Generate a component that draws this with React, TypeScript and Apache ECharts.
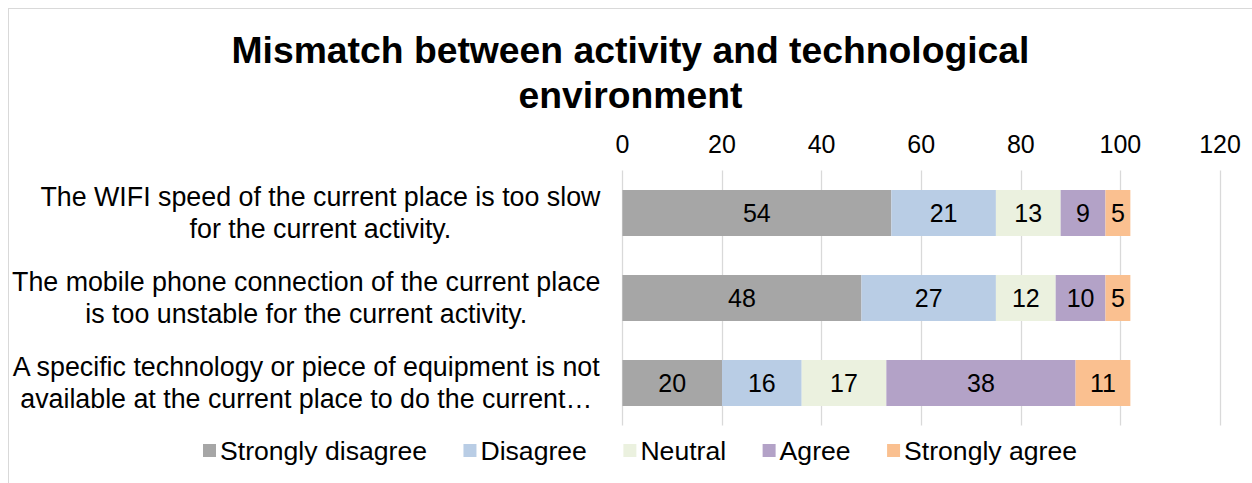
import React, { useEffect, useRef } from "react";
import * as echarts from "echarts";

const titleText = "Mismatch between activity and technological\nenvironment";
const categories = [
  "The WIFI speed of the current place is too slow\nfor the current activity.",
  "The mobile phone connection of the current place\nis too unstable for the current activity.",
  "A specific technology or piece of equipment is not\navailable at the current place to do the current…",
];
const seriesNames = ["Strongly disagree", "Disagree", "Neutral", "Agree", "Strongly agree"];
const stronglyDisagree = [54, 48, 20];
const disagree = [21, 27, 16];
const neutral = [13, 12, 17];
const agree = [9, 10, 38];
const stronglyAgree = [5, 5, 11];
const xTicks = [0, 20, 40, 60, 80, 100, 120];
const colors = ["#a6a6a6", "#b9cde5", "#ebf1df", "#b3a2c7", "#fac090"];

const FONT = "'Liberation Sans', Arial, sans-serif";

export default function App() {
  const ref = useRef<HTMLDivElement>(null);
  useEffect(() => {
    if (!ref.current) return;
    const chart = echarts.init(ref.current, undefined, { renderer: "svg" });
    const values = [stronglyDisagree, disagree, neutral, agree, stronglyAgree];
    chart.setOption({
      animation: false,
      backgroundColor: "#ffffff",
      textStyle: { fontFamily: FONT },
      title: {
        text: titleText,
        left: "center",
        top: 18,
        padding: 0,
        textStyle: {
          fontFamily: FONT,
          fontSize: 37.3,
          fontWeight: "bold",
          lineHeight: 45,
          color: "#000",
        },
      },
      legend: {
        data: seriesNames,
        left: 194,
        top: 428,
        padding: 0,
        itemWidth: 13,
        itemHeight: 13,
        itemGap: 36.5,
        icon: "rect",
        textStyle: { fontFamily: FONT, fontSize: 26.6, color: "#000", padding: [0, 0, 0, -1] },
      },
      grid: { left: 613, right: 32, top: 161.5, bottom: 57.5, containLabel: false },
      xAxis: {
        type: "value",
        position: "top",
        min: xTicks[0],
        max: xTicks[xTicks.length - 1],
        interval: 20,
        axisLine: { show: false },
        axisTick: { show: false },
        splitLine: { show: true, lineStyle: { color: "#d9d9d9", width: 1.3 } },
        axisLabel: { fontFamily: FONT, fontSize: 25, color: "#000", margin: 14 },
      },
      yAxis: {
        type: "category",
        data: categories,
        inverse: true,
        axisLine: { show: false },
        axisTick: { show: false },
        axisLabel: {
          align: "right",
          margin: 22,
          formatter: (v: string) =>
            v
              .split("\n")
              .map((l) => `{c|${l}}`)
              .join("\n"),
          rich: {
            c: {
              align: "center",
              fontFamily: FONT,
              fontSize: 26.8,
              lineHeight: 32,
              color: "#000",
            },
          },
        },
      },
      series: seriesNames.map((name, i) => ({
        name,
        type: "bar",
        stack: "total",
        barWidth: 46,
        data: values[i],
        itemStyle: { color: colors[i] },
        label: {
          show: true,
          position: "inside",
          fontFamily: FONT,
          fontSize: 25,
          color: "#000",
        },
      })),
    });
    return () => chart.dispose();
  }, []);
  return (
    <div
      style={{
        position: "fixed",
        left: 8,
        top: 8,
        width: 1244,
        height: 475,
        boxSizing: "border-box",
        borderTop: "1px solid #d9d9d9",
        borderLeft: "1px solid #d9d9d9",
        background: "#fff",
      }}
    >
      <div ref={ref} style={{ width: 1243, height: 474 }} />
    </div>
  );
}
